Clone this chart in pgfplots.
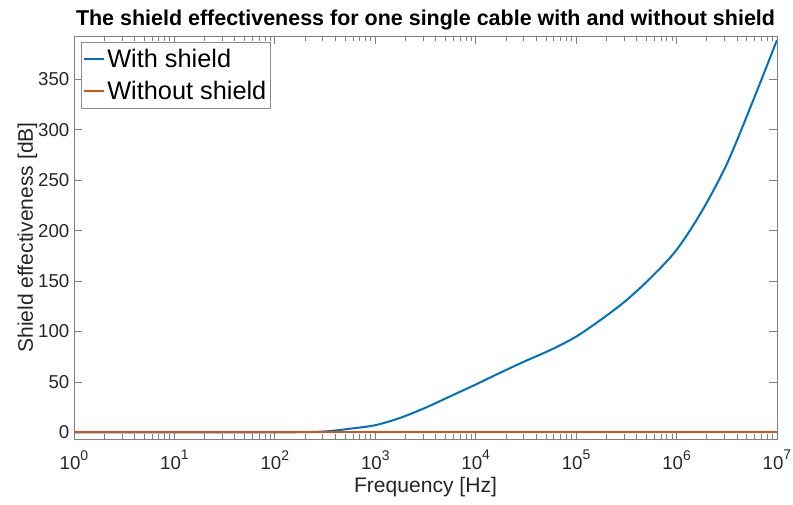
\documentclass[border=0pt]{standalone}
\usepackage{pgfplots}
\pgfplotsset{compat=1.18}
\usepackage{fontspec}
\setmainfont{Liberation Sans}

\definecolor{mblue}{rgb}{0,0.447,0.741}
\definecolor{morange}{rgb}{0.850,0.325,0.098}
\definecolor{axgray}{rgb}{0.15,0.15,0.15}

% decade tick label: 10 with a raised exponent
\newcommand{\dec}[1]{10\raisebox{7.3pt}{\fontsize{10.5}{12}\selectfont #1}}

% Shield effectiveness of the shielded cable (frequency in Hz, SE in dB)
\pgfplotstableread{
f        se
1        0
10       0
31.62    0
56.23    0
100      0.05
177.8    0.25
316.2    1.0
562.3    3.7
1000     7.2
1778     14.5
3162     24.5
5623     36
10000    47.5
17783    59.5
31623    71
56234    82
100000   95
177828   112
316228   131
562341   154
1000000  181
1778279  219
3162278  266
5623413  326
10000000 389
}\withshield

% Unshielded cable: no attenuation over the whole band
\pgfplotstableread{
f        se
1        0
10000000 0
}\withoutshield

\begin{document}
\begin{tikzpicture}
\useasboundingbox (0pt,0pt) rectangle (594.75pt,378pt);
\begin{axis}[
  at={(55.5pt,48.75pt)}, anchor=south west,
  scale only axis,
  width=527.25pt, height=302.25pt,
  xmode=log,
  xmin=1, xmax=1e7,
  ymin=-6.5, ymax=393,
  xtick={1,10,100,1000,10000,100000,1000000,10000000},
  xticklabels={\dec{0},\dec{1},\dec{2},\dec{3},\dec{4},\dec{5},\dec{6},\dec{7}},
  ytick={0,50,...,350},
  /pgf/number format/assume math mode=true,
  tick label style={font=\fontsize{14}{16}\selectfont, text=axgray},
  xticklabel style={yshift=-4.9pt},
  label style={font=\fontsize{15.8}{18}\selectfont, text=axgray},
  xlabel={Frequency [Hz]},
  ylabel={Shield effectiveness [dB]},
  xlabel style={at={(axis description cs:0.5,0)}, anchor=base, yshift=-40.3pt},
  ylabel style={at={(axis description cs:0,0.5)}, anchor=base, yshift=30.75pt},
  title={The shield effectiveness for one single cable with and without shield},
  title style={font=\fontsize{16.1}{18}\selectfont\bfseries,
    at={(axis description cs:0.5,1)}, anchor=base, yshift=1.5pt},
  axis line style={draw=black!50, line width=0.6pt},
  tick style={draw=black!50, line width=0.6pt},
  tick align=inside,
  major tick length=6pt,
  minor tick length=3.5pt,
  xminorticks=true,
  legend style={at={(0,1)}, xshift=5.25pt, yshift=-4.5pt, anchor=north west,
    draw=black!45, line width=0.6pt,
    font=\fontsize{19}{22}\selectfont, inner xsep=1pt, inner ysep=3pt, row sep=4.75pt},
  legend cell align=left,
  legend image post style={line width=1.4pt},
  legend image code/.code={\draw[#1] (0pt,0pt) -- (15pt,0pt);},
]
\addplot[mblue, line width=1.5pt, smooth] table[x=f, y=se] {\withshield};
\addlegendentry{With shield}
\addplot[morange, line width=1.5pt] table[x=f, y=se] {\withoutshield};
\addlegendentry{Without shield}
\end{axis}
\end{tikzpicture}
\end{document}
